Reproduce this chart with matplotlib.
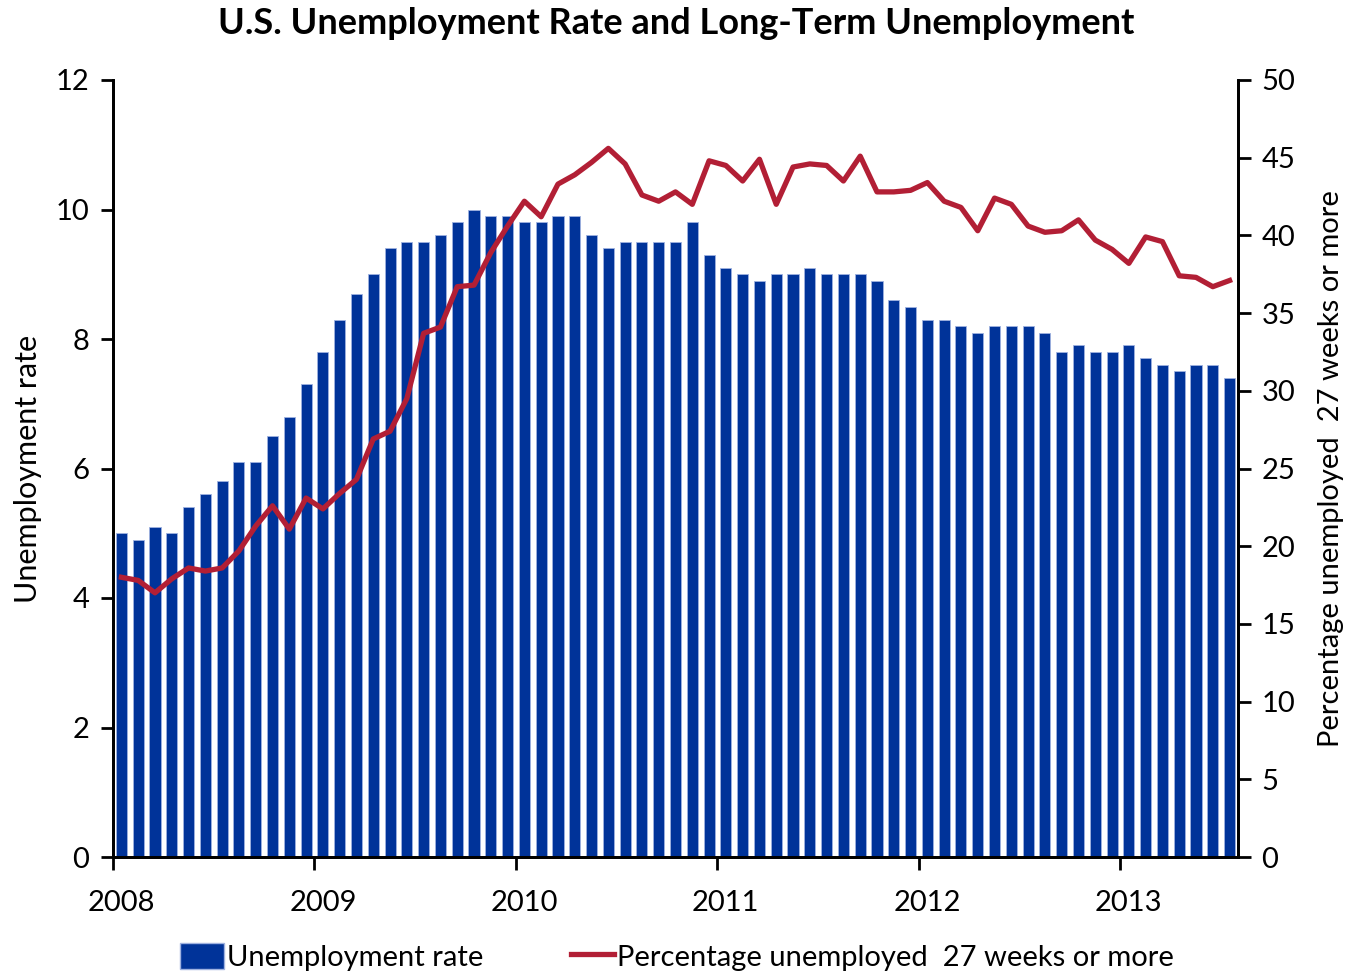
import matplotlib.pyplot as plt
from matplotlib.patches import Patch
from matplotlib.lines import Line2D

# monthly, Jan 2008 .. Jul 2013
years = ['2008', '2009', '2010', '2011', '2012', '2013']

unemp_rate = [5.0, 4.9, 5.1, 5.0, 5.4, 5.6, 5.8, 6.1, 6.1, 6.5, 6.8, 7.3,
              7.8, 8.3, 8.7, 9.0, 9.4, 9.5, 9.5, 9.6, 9.8, 10.0, 9.9, 9.9,
              9.8, 9.8, 9.9, 9.9, 9.6, 9.4, 9.5, 9.5, 9.5, 9.5, 9.8, 9.3,
              9.1, 9.0, 8.9, 9.0, 9.0, 9.1, 9.0, 9.0, 9.0, 8.9, 8.6, 8.5,
              8.3, 8.3, 8.2, 8.1, 8.2, 8.2, 8.2, 8.1, 7.8, 7.9, 7.8, 7.8,
              7.9, 7.7, 7.6, 7.5, 7.6, 7.6, 7.4]

long_term = [18.0, 17.8, 17.0, 17.9, 18.6, 18.4, 18.6, 19.7, 21.3, 22.6, 21.1, 23.1,
             22.4, 23.4, 24.3, 26.9, 27.4, 29.5, 33.7, 34.1, 36.7, 36.8, 38.9, 40.6,
             42.2, 41.2, 43.3, 43.9, 44.7, 45.6, 44.6, 42.6, 42.2, 42.8, 42.0, 44.8,
             44.5, 43.5, 44.9, 42.0, 44.4, 44.6, 44.5, 43.5, 45.1, 42.8, 42.8, 42.9,
             43.4, 42.2, 41.8, 40.3, 42.4, 42.0, 40.6, 40.2, 40.3, 41.0, 39.7, 39.1,
             38.2, 39.9, 39.6, 37.4, 37.3, 36.7, 37.1]

blue = '#003399'
red = '#B21F35'
font = 'Lato'
plt.rcParams['font.family'] = [font, 'DejaVu Sans']
fs = 21

fig = plt.figure(figsize=(13.48, 9.73), dpi=100)
ax = fig.add_axes([113/1348, 1-857/973, (1238-113)/1348, (857-80)/973])
ax2 = ax.twinx()

x = list(range(len(unemp_rate)))
ax.bar(x, unemp_rate, width=0.66, color=blue, edgecolor='#9fb2e0', linewidth=0.6, zorder=2)
ax2.plot(x, long_term, color=red, lw=3.8, zorder=3)

ax.set_xlim(-0.5, len(unemp_rate) - 0.5)
ax.set_ylim(0, 12)
ax2.set_ylim(0, 50)
ax.set_yticks(range(0, 13, 2))
ax2.set_yticks(range(0, 51, 5))

# year boundaries as ticks, labels under first month
ax.set_xticks([-0.5 + 12*k for k in range(len(years))])
ax.set_xticklabels([])
ax.set_xticks([12*k for k in range(len(years))], minor=True)
ax.set_xticklabels(years, minor=True)
ax.tick_params(axis='x', which='minor', length=0, pad=24, labelsize=fs)
ax.tick_params(axis='x', which='major', length=9, width=2, direction='out')
ax.tick_params(axis='y', length=9, width=2, direction='out', labelsize=fs, pad=8)
ax2.tick_params(axis='y', length=9, width=2, direction='out', labelsize=fs, pad=8)

for a in (ax, ax2):
    a.spines['top'].set_visible(False)
    for s in ('left', 'right', 'bottom'):
        a.spines[s].set_linewidth(2)

ax.set_ylabel('Unemployment rate', fontsize=22, labelpad=10)
ax2.set_ylabel('Percentage unemployed  27 weeks or more', fontsize=21, labelpad=16)

fig.suptitle('U.S. Unemployment Rate and Long-Term Unemployment',
             fontsize=26, fontweight='bold', x=676/1348, y=1-24/973, va='center')

handles = [Patch(facecolor=blue, edgecolor='#9fb2e0'), Line2D([], [], color=red, lw=3.8)]
labels = ['Unemployment rate', 'Percentage unemployed  27 weeks or more']
fig.legend(handles, labels, loc='center', bbox_to_anchor=(677/1348, 1-957/973),
           ncol=2, frameon=False, fontsize=21, handlelength=1.5, handleheight=1.0,
           handletextpad=0.1, columnspacing=3.0)

fig.savefig('out.png', dpi=100)
